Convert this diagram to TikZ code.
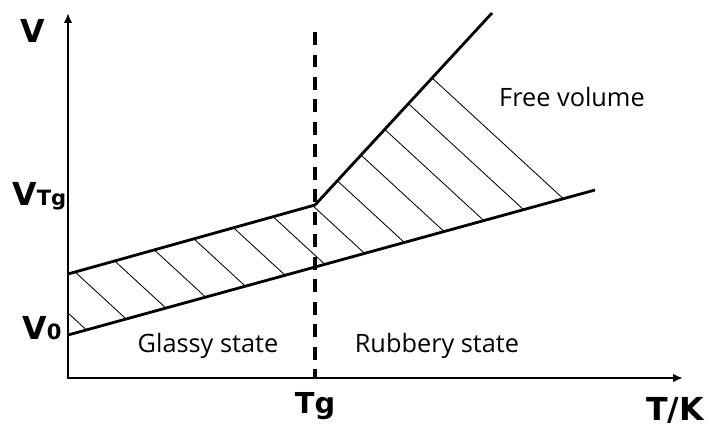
\documentclass[tikz,border=0pt]{standalone}
\usepackage{fontspec}
\setmainfont{Open Sans}
\newfontfamily\axisfont{DejaVu Sans}
\usetikzlibrary{arrows.meta,positioning}

\begin{document}
\begin{tikzpicture}[x=0.025cm, y=0.025cm,
    curve/.style={line width=2pt},
    hatch/.style={line width=0.6pt},
    axis/.style={line width=1.4pt, {Latex[length=7pt,width=6pt]}-{Latex[length=7pt,width=6pt]}},
    axislbl/.style={font=\axisfont\bfseries\fontsize{22.5}{26}\selectfont, inner sep=0pt},
    statelbl/.style={font=\fontsize{18}{22}\selectfont, inner sep=0pt, anchor=base}]
    \useasboundingbox (-68,-52) rectangle (644,378);

    % Key points of the two lines
    \coordinate (O) at (0,0);
    \coordinate (V0) at (0,43);
    \coordinate (G0) at (0,104);
    \coordinate (GT) at (247,173);
    \coordinate (RT) at (424,365);
    \coordinate (RE) at (527,188);

    % Hatching (free volume)
    \begin{scope}
        \clip (V0) -- (G0) -- (GT) -- (RT) -- (RE) -- cycle;
        \foreach \k in {0,...,12}
            \draw[hatch] ({(65+47.5*\k-400)/0.92}, 400) -- ++(500,-460);
    \end{scope}

    % Axes
    \draw[axis] (0,365) -- (O) -- (615,0);

    % Volume lines
    \draw[curve] (G0) -- (GT) -- (RT);
    \draw[curve] (V0) -- (RE);

    % Glass transition
    \draw[line width=2.6pt, dash pattern=on 9pt off 7pt] (247,346) -- (247,0);

    % Labels
    \node[axislbl, anchor=base] (vlbl) at (-35,336) {V};
    \node[axislbl, anchor=base west] (vtg) at (-56,173) {V\fontsize{15}{17}\selectfont Tg};
    \node[axislbl, anchor=base west] (vzero) at (-46,39) {V\fontsize{15}{17}\selectfont 0};
    \node[axislbl, font=\axisfont\bfseries\fontsize{20.5}{24}\selectfont, anchor=base] (tg) at (247,-35) {Tg};
    \node[axislbl, anchor=base east] (tk) at (636,-42) {T/K};
    \node[statelbl] (glassy) at (140,26) {Glassy state};
    \node[statelbl] (rubbery) at (369,26) {Rubbery state};
    \node[statelbl] (free) at (504,272) {Free volume};
\end{tikzpicture}
\end{document}
